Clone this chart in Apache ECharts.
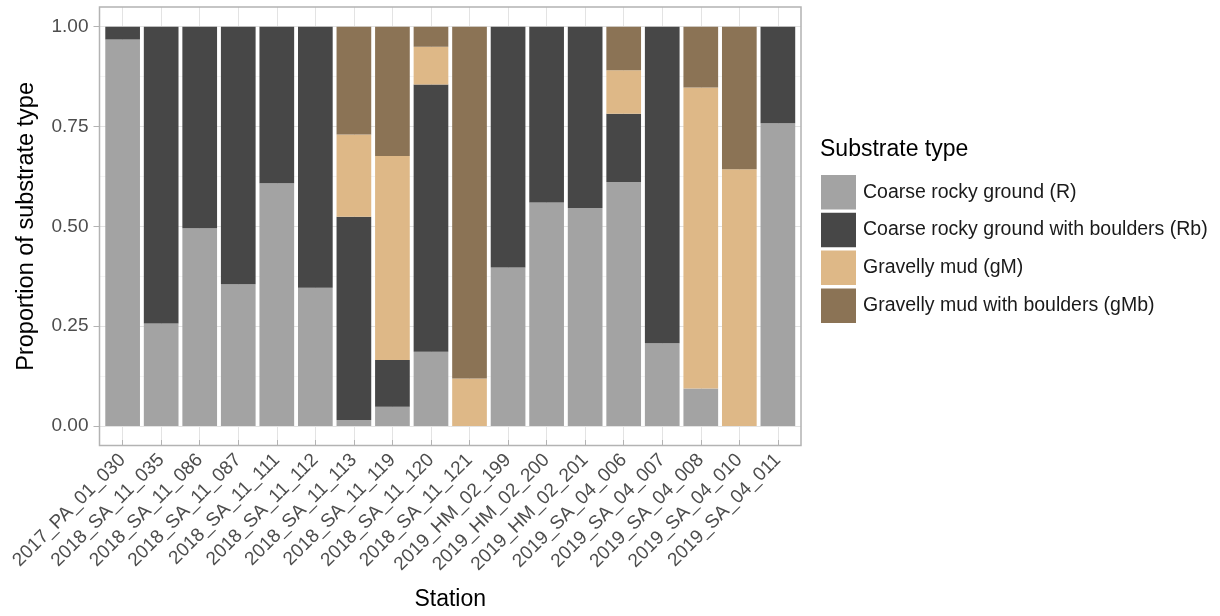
<!DOCTYPE html>
<html>
<head>
<meta charset="utf-8">
<script src="https://cdn.jsdelivr.net/npm/echarts@6/dist/echarts.min.js"></script>
<style>
  html, body { margin: 0; padding: 0; background: #fff; }
  #chart { width: 1220px; height: 616px; }
</style>
</head>
<body>
<div id="chart"></div>
<script>
// stations along the x axis
var stations = [
    '2017_PA_01_030', '2018_SA_11_035', '2018_SA_11_086', '2018_SA_11_087',
    '2018_SA_11_111', '2018_SA_11_112', '2018_SA_11_113', '2018_SA_11_119',
    '2018_SA_11_120', '2018_SA_11_121', '2019_HM_02_199', '2019_HM_02_200',
    '2019_HM_02_201', '2019_SA_04_006', '2019_SA_04_007', '2019_SA_04_008',
    '2019_SA_04_010', '2019_SA_04_011'
];
// proportion per substrate type
var coarseRocky = [0.968, 0.257, 0.495, 0.355, 0.608, 0.346, 0.015, 0.048, 0.186, 0, 0.397, 0.560, 0.546, 0.611, 0.207, 0.094, 0, 0.758];
var coarseRockyBoulders = [0.032, 0.743, 0.505, 0.645, 0.392, 0.654, 0.509, 0.117, 0.669, 0, 0.603, 0.440, 0.454, 0.171, 0.793, 0, 0, 0.242];
var gravellyMud = [0, 0, 0, 0, 0, 0, 0.206, 0.511, 0.095, 0.119, 0, 0, 0, 0.109, 0, 0.754, 0.643, 0];
var gravellyMudBoulders = [0, 0, 0, 0, 0, 0, 0.270, 0.324, 0.050, 0.881, 0, 0, 0, 0.109, 0, 0.152, 0.357, 0];
var yTicks = [0, 0.25, 0.5, 0.75, 1];

var seriesNames = [
    'Coarse rocky ground (R)',
    'Coarse rocky ground with boulders (Rb)',
    'Gravelly mud (gM)',
    'Gravelly mud with boulders (gMb)'
];
var seriesData = [coarseRocky, coarseRockyBoulders, gravellyMud, gravellyMudBoulders];
var colors = ['#a3a3a3', '#474747', '#deb887', '#8b7355'];

var font = 'Liberation Sans, Arial, Helvetica, sans-serif';

// panel geometry (ggplot style: discrete axis expanded by 0.6, y by 5%)
var panelLeft = 99.5, panelWidth = 701.5, panelTop = 7, panelHeight = 438.5;
var unit = panelWidth / (stations.length - 1 + 1.2);
var dataTop = 26.7, dataHeight = 399.3;

var myChart = echarts.init(document.getElementById('chart'));

var series = seriesNames.map(function (name, i) {
    return {
        name: name,
        type: 'bar',
        stack: 'total',
        xAxisIndex: 3,
        yAxisIndex: 3,
        barCategoryGap: '10%',
        itemStyle: { color: colors[i] },
        emphasis: { disabled: true },
        data: seriesData[i]
    };
});

myChart.setOption({
    animation: false,
    color: colors,
    textStyle: { fontFamily: font },
    title: {
        text: 'Substrate type',
        left: 815,
        top: 133,
        textStyle: { fontFamily: font, fontSize: 23, fontWeight: 'normal', color: '#000' }
    },
    legend: {
        orient: 'vertical',
        left: 816,
        top: 170,
        icon: 'rect',
        itemWidth: 35,
        itemHeight: 34.5,
        itemGap: 3.3,
        selectedMode: false,
        data: seriesNames,
        textStyle: { fontFamily: font, fontSize: 19.5, color: '#1a1a1a', padding: [0, 0, 0, 2] }
    },
    grid: [
        // panel border
        { left: panelLeft, top: panelTop, width: panelWidth, height: panelHeight,
          show: true, borderColor: '#b3b3b3', borderWidth: 1.5, backgroundColor: 'transparent', z: 5 },
        // y axis + horizontal grid
        { left: panelLeft, top: dataTop, width: panelWidth, height: dataHeight },
        // x axis + vertical grid
        { left: panelLeft + 0.6 * unit, top: panelTop, width: unit * (stations.length - 1), height: panelHeight },
        // bars
        { left: panelLeft + 0.1 * unit, top: dataTop, width: unit * stations.length, height: dataHeight }
    ],
    xAxis: [
        { gridIndex: 0, type: 'value', show: false },
        { gridIndex: 1, type: 'value', show: false },
        {
            gridIndex: 2,
            type: 'category',
            data: stations,
            boundaryGap: false,
            name: 'Station',
            nameLocation: 'middle',
            nameGap: 148,
            nameTextStyle: { fontFamily: font, fontSize: 23, color: '#000' },
            axisLine: { show: false },
            axisTick: { show: true, length: 6, interval: 0, lineStyle: { color: '#b3b3b3', width: 1 } },
            axisLabel: { interval: 0, rotate: 45, margin: 17, fontFamily: font, fontSize: 19, color: '#4d4d4d' },
            splitLine: { show: true, interval: 0, lineStyle: { color: '#e3e3e3', width: 1 } }
        },
        { gridIndex: 3, type: 'category', data: stations, show: false }
    ],
    yAxis: [
        { gridIndex: 0, type: 'value', show: false },
        {
            gridIndex: 1,
            type: 'value',
            min: yTicks[0],
            max: yTicks[yTicks.length - 1],
            interval: yTicks[1] - yTicks[0],
            name: 'Proportion of substrate type',
            nameLocation: 'middle',
            nameGap: 61,
            nameTextStyle: { fontFamily: font, fontSize: 23.5, color: '#000' },
            axisLine: { show: false },
            axisTick: { show: true, length: 6, lineStyle: { color: '#b3b3b3', width: 1 } },
            axisLabel: {
                margin: 11, fontFamily: font, fontSize: 19, color: '#4d4d4d',
                formatter: function (v) { return v.toFixed(2); }
            },
            splitLine: { show: true, lineStyle: { color: '#e3e3e3', width: 1 } },
            minorTick: { show: false, splitNumber: 2 },
            minorSplitLine: { show: true, lineStyle: { color: '#efefef', width: 0.7 } }
        },
        { gridIndex: 2, type: 'value', show: false },
        { gridIndex: 3, type: 'value', min: 0, max: 1, show: false }
    ],
    series: series
});
</script>
</body>
</html>
